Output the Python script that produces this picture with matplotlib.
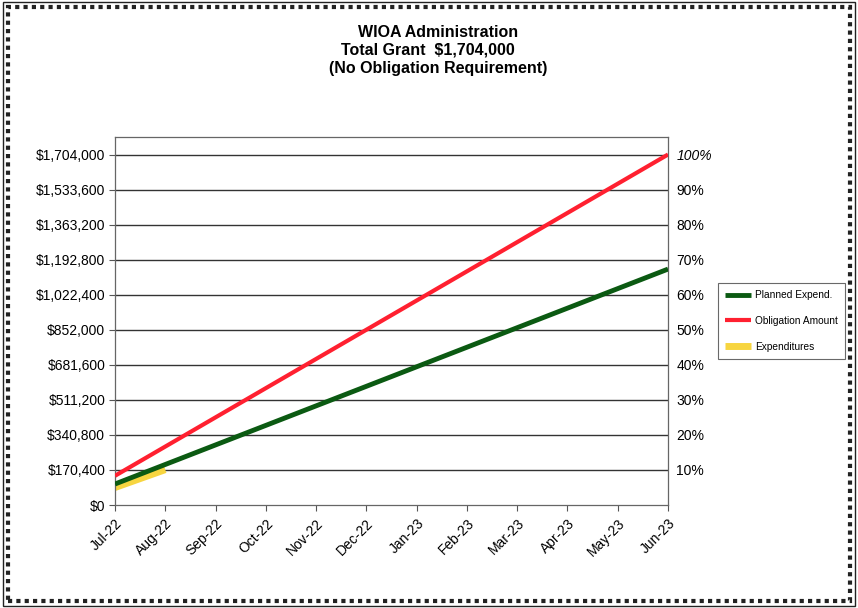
import matplotlib
matplotlib.use("Agg")
import matplotlib.pyplot as plt
from matplotlib.patches import Rectangle

plt.rcParams['font.family'] = ['Liberation Sans', 'DejaVu Sans']

months = ["Jul-22", "Aug-22", "Sep-22", "Oct-22", "Nov-22", "Dec-22",
          "Jan-23", "Feb-23", "Mar-23", "Apr-23", "May-23", "Jun-23"]
planned = [102000, 197000, 292000, 387000, 482000, 577000,
           672000, 767000, 862000, 957000, 1052000, 1147000]
obligation = [142000, 284000, 426000, 568000, 710000, 852000,
              994000, 1136000, 1278000, 1420000, 1562000, 1704000]
expenditures = [85000, 172000]
y_ticks = [0, 170400, 340800, 511200, 681600, 852000, 1022400, 1192800,
           1363200, 1533600, 1704000]
y_labels = ["$0", "$170,400", "$340,800", "$511,200", "$681,600", "$852,000",
            "$1,022,400", "$1,192,800", "$1,363,200", "$1,533,600", "$1,704,000"]
pct_labels = ["10%", "20%", "30%", "40%", "50%", "60%", "70%", "80%", "90%", "100%"]

fig = plt.figure(figsize=(8.58, 6.08), dpi=100)
ax = fig.add_axes([0.134, 0.1694, 0.6446, 0.6053])

x = list(range(len(months)))
ax.plot(x, planned, color="#0b5a12", lw=3.5, label="Planned Expend.", zorder=3, solid_capstyle='butt')
ax.plot(x, obligation, color="#ff2030", lw=3, label="Obligation Amount", zorder=3, solid_capstyle='butt')
ax.plot(x[:len(expenditures)], expenditures, color="#f7d540", lw=5, label="Expenditures", zorder=2, solid_capstyle='butt')

ax.set_xlim(0, len(months) - 1)
ax.set_ylim(0, 1789200)
ax.set_yticks(y_ticks)
ax.set_yticklabels(y_labels, fontsize=10)
ax.set_xticks(x)
ax.set_xticklabels(months, rotation=45, ha='right', rotation_mode='anchor', fontsize=10)
ax.tick_params(axis='x', length=4, color='#555555', pad=4)
ax.tick_params(axis='y', length=4, color='#555555', pad=3)
for yt in y_ticks[1:]:
    ax.axhline(yt, color='#333333', lw=1, zorder=1)
for s in ax.spines.values():
    s.set_color('#666666')
    s.set_linewidth(0.9)

ax2 = ax.twinx()
ax2.set_ylim(ax.get_ylim())
ax2.set_yticks(y_ticks[1:])
ax2.set_yticklabels(pct_labels, fontsize=10)
ax2.tick_params(axis='y', length=0, pad=6)
ax2.get_yticklabels()[-1].set_style('italic')
for s in ax2.spines.values():
    s.set_visible(False)

leg = ax.legend(loc='upper left', bbox_to_anchor=(1.09, 0.603), fontsize=7.3,
                frameon=True, fancybox=False, edgecolor='#444444', borderaxespad=0,
                handlelength=2.6, labelspacing=1.55, borderpad=0.7, handletextpad=0.4)
leg.get_frame().set_linewidth(0.8)

fig.text(0.5105, 0.947, "WIOA Administration", ha='center', va='center', fontsize=11.5, fontweight='bold')
fig.text(0.499, 0.918, "Total Grant  $1,704,000", ha='center', va='center', fontsize=11.5, fontweight='bold')
fig.text(0.5105, 0.888, "(No Obligation Requirement)", ha='center', va='center', fontsize=11.5, fontweight='bold')

fig.patches.append(Rectangle((0.004, 0.004), 0.992, 0.992, transform=fig.transFigure,
                             fill=False, edgecolor='#222222', lw=1))
fig.patches.append(Rectangle((0.009, 0.011), 0.982, 0.978, transform=fig.transFigure,
                             fill=False, edgecolor='#222222', lw=3, linestyle=(0, (1, 1))))

fig.savefig("out.png", dpi=100)
